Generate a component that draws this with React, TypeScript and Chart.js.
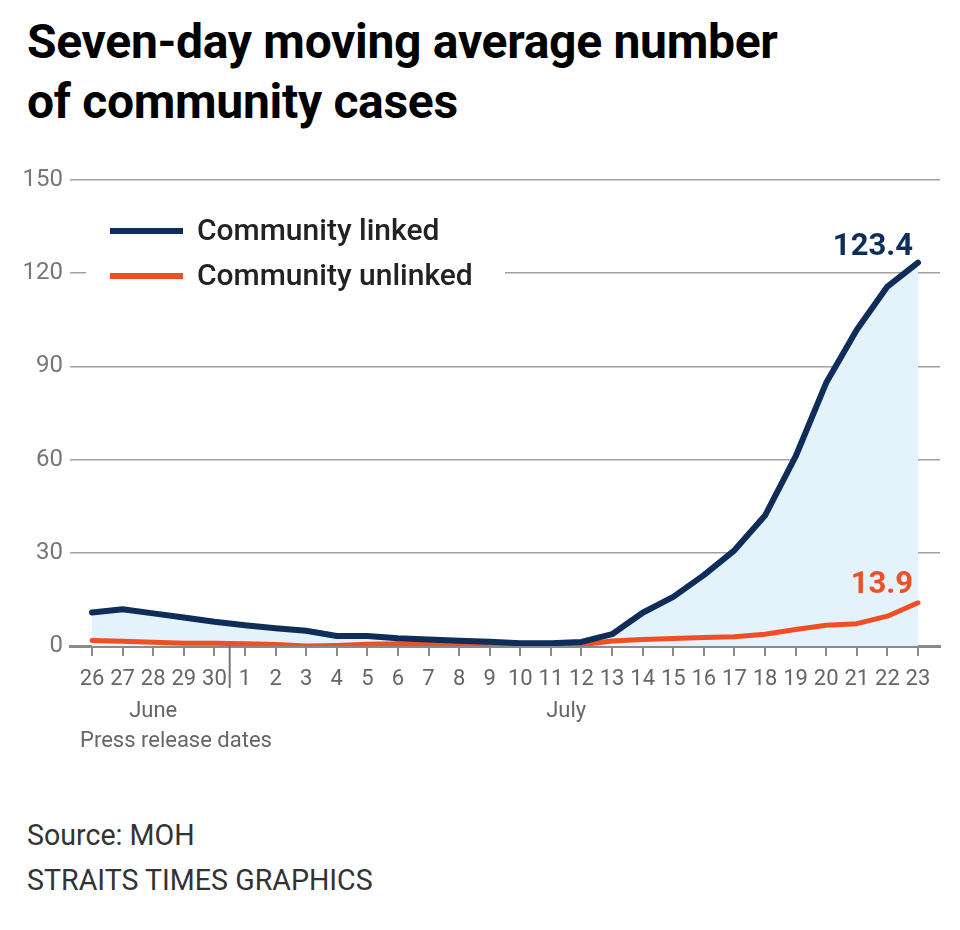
import React, { useEffect, useRef } from "react";
import { Chart, registerables } from "chart.js";

Chart.register(...registerables);

const categories = [
  "26", "27", "28", "29", "30",
  "1", "2", "3", "4", "5", "6", "7", "8", "9", "10", "11", "12", "13",
  "14", "15", "16", "17", "18", "19", "20", "21", "22", "23",
];
const linked = [
  10.8, 11.8, 10.5, 9.2, 7.8,
  6.7, 5.7, 4.9, 3.2, 3.2, 2.5, 2.1, 1.7, 1.4, 0.9, 0.9, 1.3, 3.8,
  10.7, 15.8, 22.8, 30.8, 42, 61, 84.7, 101.8, 115.7, 123.4,
];
const unlinked = [
  1.8, 1.5, 1.2, 0.9, 0.9,
  0.7, 0.5, 0, 0.2, 0.6, 0.7, 0.7, 0.6, 0.5, 0.3, 0.3, 0.4, 1.6,
  2.1, 2.4, 2.7, 3.0, 3.8, 5.3, 6.7, 7.2, 9.6, 13.9,
];
const yTicks = [0, 30, 60, 90, 120, 150];
const seriesNames = ["Community linked", "Community unlinked"];
const monthLabels = [
  { text: "June", at: 2 },
  { text: "July", at: 15.5 },
];
const monthBreakAt = 4.5;
const axisTitle = "Press release dates";

const NAVY = "#0f2d59";
const ORANGE = "#f04e23";
const FILL = "#e3f2fb";
const FONT = "Roboto, 'DejaVu Sans', sans-serif";

const annotations = {
  id: "annotations",
  beforeDatasetsDraw(chart: any) {
    const { ctx, chartArea } = chart;
    ctx.save();
    // legend box hiding gridline
    ctx.fillStyle = "#ffffff";
    ctx.fillRect(chartArea.left + 16, chartArea.top + 28, 419, 90);
    const rows = [
      { name: seriesNames[0], color: NAVY, dy: 51 },
      { name: seriesNames[1], color: ORANGE, dy: 96 },
    ];
    rows.forEach((r) => {
      const y = chartArea.top + r.dy;
      ctx.strokeStyle = r.color;
      ctx.lineWidth = 6;
      ctx.lineCap = "butt";
      ctx.beginPath();
      ctx.moveTo(chartArea.left + 40, y);
      ctx.lineTo(chartArea.left + 113, y);
      ctx.stroke();
      ctx.fillStyle = "#222222";
      ctx.font = `500 30px ${FONT}`;
      ctx.textBaseline = "middle";
      ctx.textAlign = "left";
      ctx.fillText(r.name, chartArea.left + 127, y + 1);
    });
    ctx.restore();
  },
  afterDraw(chart: any) {
    const { ctx, chartArea, scales } = chart;
    const xs = scales.x;
    ctx.save();
    // month separator
    const sx = xs.getPixelForValue(monthBreakAt);
    ctx.strokeStyle = "#777777";
    ctx.lineWidth = 2;
    ctx.beginPath();
    ctx.moveTo(sx, chartArea.bottom);
    ctx.lineTo(sx, chartArea.bottom + 42);
    ctx.stroke();
    // month labels
    ctx.fillStyle = "#666666";
    ctx.font = `22px ${FONT}`;
    ctx.textBaseline = "alphabetic";
    ctx.textAlign = "center";
    monthLabels.forEach((m) => {
      ctx.fillText(m.text, xs.getPixelForValue(m.at), chartArea.bottom + 71);
    });
    ctx.textAlign = "left";
    ctx.fillText(axisTitle, chartArea.left + 10, chartArea.bottom + 101);
    // end labels
    const last = categories.length - 1;
    const ends = [
      { v: linked[last], color: NAVY, off: 8 },
      { v: unlinked[last], color: ORANGE, off: 10 },
    ];
    ctx.font = `bold 31px ${FONT}`;
    ctx.textAlign = "right";
    ends.forEach((e) => {
      ctx.fillStyle = e.color;
      ctx.fillText(
        e.v.toFixed(1),
        xs.getPixelForValue(last) - 5,
        scales.y.getPixelForValue(e.v) - e.off
      );
    });
    ctx.restore();
  },
};

function LineChart() {
  const ref = useRef<HTMLCanvasElement | null>(null);
  useEffect(() => {
    if (!ref.current) return;
    const chart = new Chart(ref.current, {
      type: "line",
      data: {
        datasets: [
          {
            label: seriesNames[0],
            data: linked.map((v, i) => ({ x: i, y: v })),
            borderColor: NAVY,
            borderWidth: 6,
            backgroundColor: FILL,
            fill: "origin",
            pointRadius: 0,
            tension: 0,
            borderCapStyle: "round",
            borderJoinStyle: "round",
          },
          {
            label: seriesNames[1],
            data: unlinked.map((v, i) => ({ x: i, y: v })),
            borderColor: ORANGE,
            borderWidth: 5,
            fill: false,
            pointRadius: 0,
            tension: 0,
            borderCapStyle: "round",
            borderJoinStyle: "round",
          },
        ],
      },
      options: {
        animation: false,
        responsive: true,
        maintainAspectRatio: false,
        layout: { padding: { top: 30, right: 20, left: 0, bottom: 0 } },
        plugins: {
          legend: { display: false },
          tooltip: { enabled: false },
          filler: { drawTime: "beforeDatasetsDraw" },
        },
        scales: {
          x: {
            type: "linear",
            min: -0.72,
            max: 27.72,
            afterFit: (s: any) => {
              s.height = 124;
            },
            ticks: {
              stepSize: 1,
              includeBounds: false,
              autoSkip: false,
              maxRotation: 0,
              padding: 10,
              color: "#666666",
              font: { family: FONT, size: 22 },
              callback: (v: any) => categories[v] ?? "",
            },
            grid: {
              drawOnChartArea: false,
              drawTicks: true,
              tickLength: 10,
              color: "#8a8a8a",
              lineWidth: 2,
            },
            border: { display: true, color: "#8a8a8a", width: 3 },
          },
          y: {
            min: 0,
            max: 150,
            afterFit: (s: any) => {
              s.width = 70;
            },
            afterBuildTicks: (s: any) => {
              s.ticks = yTicks.map((v) => ({ value: v }));
            },
            ticks: {
              padding: 7,
              color: "#777777",
              font: { family: FONT, size: 24 },
            },
            grid: {
              drawTicks: false,
              color: "#a0a0a0",
              lineWidth: 1.5,
            },
            border: { display: false },
          },
        },
      },
      plugins: [annotations],
    });
    return () => chart.destroy();
  }, []);
  return (
    <div style={{ position: "absolute", left: 0, top: 150, width: 960, height: 620 }}>
      <canvas ref={ref} />
    </div>
  );
}

export default function App() {
  return (
    <div
      style={{
        position: "absolute",
        left: 0,
        top: 0,
        width: 960,
        height: 930,
        background: "#ffffff",
        fontFamily: FONT,
        overflow: "hidden",
      }}
    >
      <div
        style={{
          position: "absolute",
          left: 27,
          top: 12,
          fontSize: 48,
          fontWeight: 700,
          lineHeight: "60px",
          color: "#000000",
          letterSpacing: -0.3,
        }}
      >
        Seven-day moving average number
        <br />
        of community cases
      </div>
      <LineChart />
      <div
        style={{
          position: "absolute",
          left: 27,
          top: 813,
          fontSize: 28.6,
          lineHeight: "45px",
          color: "#333333",
        }}
      >
        Source: MOH
        <br />
        STRAITS TIMES GRAPHICS
      </div>
    </div>
  );
}
